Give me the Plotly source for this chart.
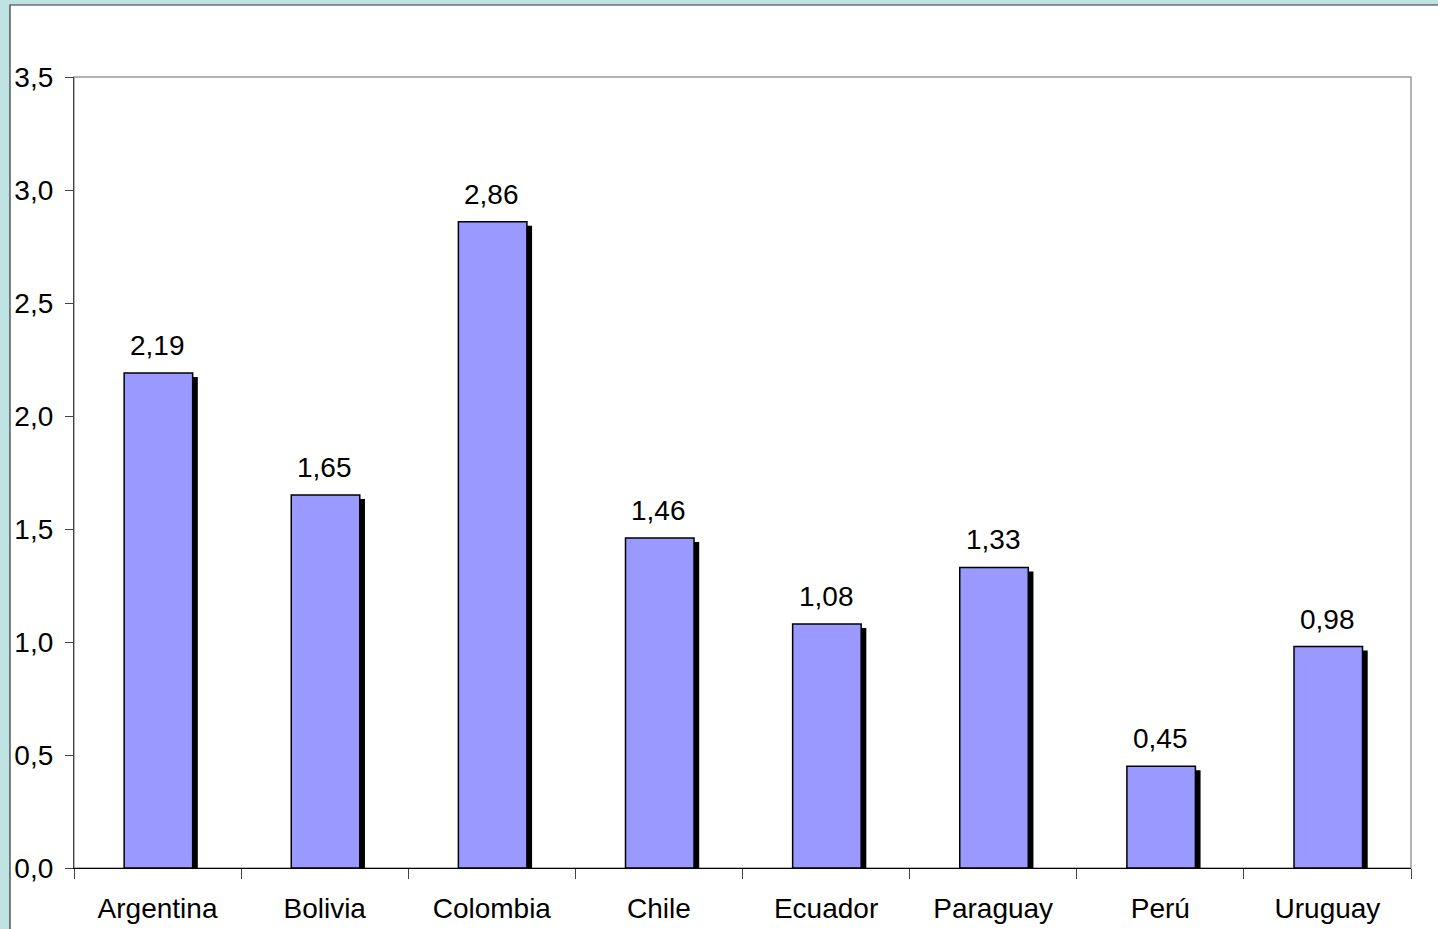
import plotly.graph_objects as go

countries = ["Argentina", "Bolivia", "Colombia", "Chile", "Ecuador", "Paraguay", "Perú", "Uruguay"]
values = [2.19, 1.65, 2.86, 1.46, 1.08, 1.33, 0.45, 0.98]
labels = ["2,19", "1,65", "2,86", "1,46", "1,08", "1,33", "0,45", "0,98"]

W, H = 1438, 929
L, R, T, B = 74, 27, 77, 61
pw, ph = W - L - R, H - T - B
ymax = 3.5
bar_w = 0.41
sh_dx = 6 / (pw / len(countries))
sh_dy = 4 / (ph / ymax)
FONT = "Liberation Sans, Arial"
FS = 28

fig = go.Figure()
# shadow
fig.add_trace(go.Bar(
    x=countries, y=[v - sh_dy for v in values],
    width=bar_w, offset=-bar_w / 2 + sh_dx,
    marker=dict(color="black", line=dict(width=0)),
    hoverinfo="skip", showlegend=False,
))
fig.add_trace(go.Bar(
    x=countries, y=values,
    width=bar_w, offset=-bar_w / 2 + 0.005,
    marker=dict(color="#9999FF", line=dict(color="black", width=1.5)),
    showlegend=False,
))

for c, v, t in zip(countries, values, labels):
    fig.add_annotation(x=c, y=v, text=t, showarrow=False, yanchor="bottom",
                       yshift=10, font=dict(size=FS, color="black", family=FONT))

shapes = [
    dict(type="rect", xref="paper", yref="paper",
         x0=(10 - L) / pw, x1=(W + 20 - L) / pw,
         y0=-(B + 20) / ph, y1=(H - B - 5) / ph,
         fillcolor="white", line=dict(color="#333333", width=1.2), layer="below"),
    dict(type="rect", xref="paper", yref="paper", x0=0, x1=1, y0=0, y1=1,
         line=dict(color="#9a9a9a", width=1.5), layer="below"),
]

fig.update_layout(
    width=W, height=H,
    margin=dict(l=L, r=R, t=T, b=B, autoexpand=False),
    paper_bgcolor="#BFE2E3",
    plot_bgcolor="white",
    barmode="overlay",
    separators=", ",
    font=dict(family=FONT, size=FS, color="black"),
    shapes=shapes,
    xaxis=dict(
        tickson="boundaries", ticks="outside", ticklen=10, tickcolor="#444444",
        showline=True, linecolor="black", linewidth=1.2, showgrid=False,
        tickfont=dict(size=FS), range=[-0.5, len(countries) - 0.5],
        ticklabelstandoff=15, automargin=False,
    ),
    yaxis=dict(
        range=[0, ymax], dtick=0.5, tickformat=".1f", ticks="outside",
        ticklen=8, tickcolor="#444444", showline=True, linecolor="#444444",
        linewidth=1.2, showgrid=False, zeroline=False, tickfont=dict(size=FS),
        ticklabelstandoff=6, automargin=False,
    ),
)

fig.write_html("out.html", config={"displayModeBar": False},
               post_script="document.body.style.margin='0';document.body.style.background='#BFE2E3';")
